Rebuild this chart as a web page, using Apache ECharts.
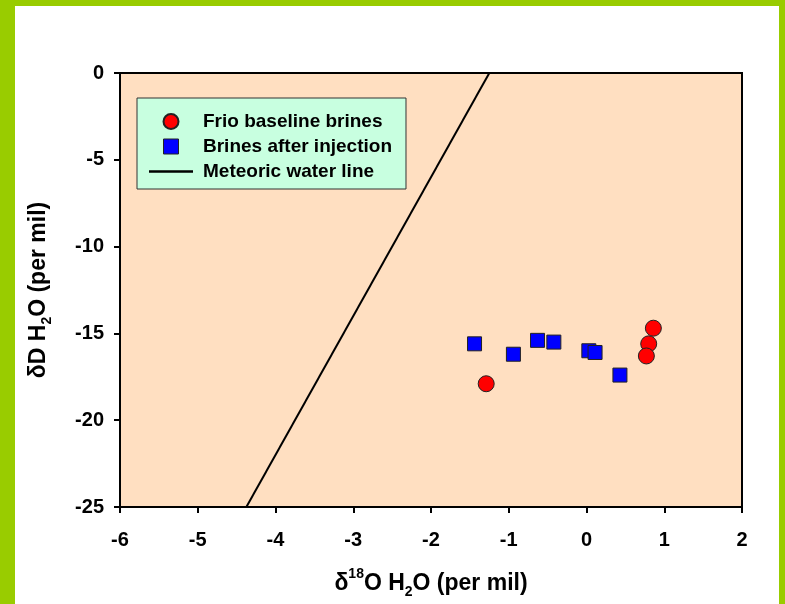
<!DOCTYPE html>
<html>
<head>
<meta charset="utf-8">
<script src="https://cdn.jsdelivr.net/npm/echarts@6/dist/echarts.min.js"></script>
<style>
html,body{margin:0;padding:0;background:#fff;}
#chart{width:785px;height:604px;}
</style>
</head>
<body>
<div id="chart"></div>
<script>
// Data (δ18O, δD) in per mil
const frioBaselineX = [-1.29, 0.86, 0.80, 0.77];
const frioBaselineY = [-17.9, -14.7, -15.6, -16.3];
const afterInjectionX = [-1.44, -0.94, -0.63, -0.42, 0.03, 0.11, 0.43];
const afterInjectionY = [-15.6, -16.2, -15.4, -15.5, -16.0, -16.1, -17.4];
const meteoricX = [-4.375, -1.25];
const meteoricY = [-25, 0];
const seriesNames = ['Frio baseline brines', 'Brines after injection', 'Meteoric water line'];
const xTicks = [-6, -5, -4, -3, -2, -1, 0, 1, 2];
const yTicks = [-25, -20, -15, -10, -5, 0];

const zip = (xs, ys) => xs.map((x, i) => [x, ys[i]]);
const FONT = '"Liberation Sans", Arial, sans-serif';
const TITLE_SIZE = 23;

const chart = echarts.init(document.getElementById('chart'), null, {renderer: 'canvas'});
chart.setOption({
  backgroundColor: '#ffffff',
  animation: false,
  textStyle: {fontFamily: FONT},
  graphic: [
    {type: 'rect', left: 0, top: 0, shape: {width: 15, height: 604}, style: {fill: '#99CC00'}, z: -10},
    {type: 'rect', left: 779, top: 0, shape: {width: 6, height: 604}, style: {fill: '#99CC00'}, z: -10},
    {type: 'rect', left: 0, top: 0, shape: {width: 785, height: 6}, style: {fill: '#99CC00'}, z: -10}
  ],
  grid: {
    left: 120, top: 73, right: 43, bottom: 95,
    show: true, backgroundColor: '#FFDFC1', borderColor: '#000', borderWidth: 2,
    containLabel: false
  },
  legend: {
    orient: 'vertical',
    left: 137, top: 98,
    padding: [14, 14, 8, 12],
    backgroundColor: '#C8FFE0',
    borderColor: '#333',
    borderWidth: 1,
    borderRadius: 0,
    itemWidth: 44,
    itemHeight: 15,
    itemGap: 6,
    symbolKeepAspect: true,
    data: [
      {name: seriesNames[0], icon: 'circle', itemStyle: {opacity: 1}},
      {name: seriesNames[1], icon: 'path://M0,0L10,0L10,10L0,10Z', itemStyle: {opacity: 1, borderWidth: 1, borderColor: '#222'}},
      {name: seriesNames[2], icon: 'path://M0,0L40,0L40,2.2L0,2.2Z', itemStyle: {color: '#000', opacity: 1, borderWidth: 0}}
    ],
    textStyle: {fontFamily: FONT, fontWeight: 'bold', fontSize: 19, color: '#000', lineHeight: 19, padding: [0, 0, 0, 5]}
  },
  xAxis: {
    type: 'value', min: xTicks[0], max: xTicks[xTicks.length - 1], interval: 1,
    name: '{d|δ}{sup|18}{b|O H}{sub|2}{b|O (per mil)}',
    nameLocation: 'middle', nameGap: 60,
    nameTextStyle: {
      rich: {
        d: {fontFamily: FONT, fontWeight: 'bold', fontSize: TITLE_SIZE, color: '#000', lineHeight: 28, verticalAlign: 'bottom'},
        b: {fontFamily: FONT, fontWeight: 'bold', fontSize: TITLE_SIZE, color: '#000', lineHeight: 28, verticalAlign: 'bottom'},
        sup: {fontFamily: FONT, fontWeight: 'bold', fontSize: 14, color: '#000', lineHeight: 14, verticalAlign: 'top'},
        sub: {fontFamily: FONT, fontWeight: 'bold', fontSize: 14, color: '#000', lineHeight: 14, verticalAlign: 'bottom', padding: [0, 0, -4, 0]}
      }
    },
    axisLine: {show: true, onZero: false, lineStyle: {color: '#000', width: 2}},
    axisTick: {show: true, inside: false, length: 6, lineStyle: {color: '#000', width: 2}},
    axisLabel: {fontFamily: FONT, fontWeight: 'bold', fontSize: 20, color: '#000', margin: 23},
    splitLine: {show: false}
  },
  yAxis: {
    type: 'value', min: yTicks[0], max: yTicks[yTicks.length - 1], interval: 5,
    name: '{b|δD H}{sub|2}{b|O (per mil)}',
    nameLocation: 'middle', nameGap: 70, nameRotate: 90,
    nameTextStyle: {
      rich: {
        b: {fontFamily: FONT, fontWeight: 'bold', fontSize: TITLE_SIZE, color: '#000', lineHeight: 28, verticalAlign: 'bottom'},
        sub: {fontFamily: FONT, fontWeight: 'bold', fontSize: 14, color: '#000', lineHeight: 14, verticalAlign: 'bottom', padding: [0, 0, -4, 0]}
      }
    },
    axisLine: {show: true, onZero: false, lineStyle: {color: '#000', width: 2}},
    axisTick: {show: true, inside: false, length: 6, lineStyle: {color: '#000', width: 2}},
    axisLabel: {fontFamily: FONT, fontWeight: 'bold', fontSize: 20, color: '#000', margin: 16},
    splitLine: {show: false}
  },
  series: [
    {
      name: seriesNames[0], type: 'scatter', symbol: 'circle', symbolSize: 16,
      itemStyle: {color: '#FF0000', opacity: 1, borderColor: '#222', borderWidth: 1},
      data: zip(frioBaselineX, frioBaselineY), z: 4
    },
    {
      name: seriesNames[1], type: 'scatter', symbol: 'rect', symbolSize: 14,
      itemStyle: {color: '#0000FF', opacity: 1, borderColor: '#222', borderWidth: 1},
      data: zip(afterInjectionX, afterInjectionY), z: 3
    },
    {
      name: seriesNames[2], type: 'line', symbol: 'none', showSymbol: false,
      lineStyle: {color: '#000', width: 2},
      itemStyle: {color: '#000'},
      data: zip(meteoricX, meteoricY), z: 2
    }
  ]
});
</script>
</body>
</html>
